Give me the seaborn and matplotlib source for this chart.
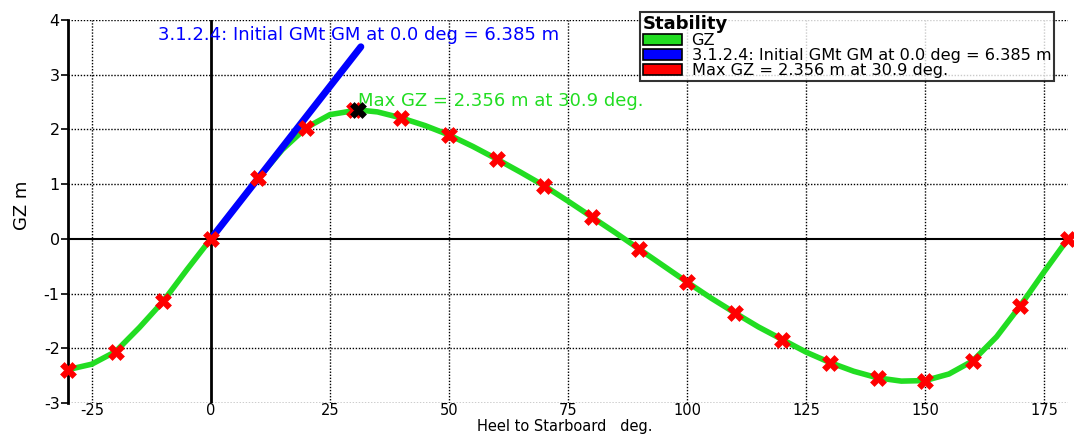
import numpy as np
import pandas as pd
import seaborn as sns
import matplotlib
matplotlib.use("Agg")
import matplotlib.pyplot as plt
from matplotlib.patches import Patch

# ---- data ----
curve_heel = [-30, -25, -20, -15, -10, -5, 0, 5, 10, 15, 20, 25, 30.9, 35, 40, 45, 50, 55, 60, 65,
              70, 75, 80, 85, 90, 95, 100, 105, 110, 115, 120, 125, 130, 135, 140, 145, 150, 155,
              160, 165, 170, 175, 180]
curve_gz = [-2.39, -2.29, -2.06, -1.62, -1.14, -0.56, 0.0, 0.56, 1.11, 1.63, 2.03, 2.27, 2.356, 2.32,
            2.21, 2.07, 1.90, 1.69, 1.46, 1.22, 0.97, 0.69, 0.40, 0.11, -0.19, -0.49, -0.79, -1.08,
            -1.35, -1.61, -1.84, -2.07, -2.26, -2.42, -2.54, -2.60, -2.59, -2.47, -2.23, -1.79,
            -1.22, -0.60, 0.0]
marker_heel = [-30, -20, -10, 0, 10, 20, 30, 40, 50, 60, 70, 80, 90, 100, 110, 120, 130, 140, 150,
               160, 170, 180]
marker_gz = [-2.39, -2.06, -1.14, 0.0, 1.11, 2.03, 2.35, 2.21, 1.90, 1.46, 0.97, 0.40, -0.19, -0.79,
             -1.35, -1.84, -2.26, -2.54, -2.59, -2.23, -1.22, 0.0]
max_heel = [30.9]
max_gz = [2.356]
gm_heel = [0.0, 31.5]
gm_value = 6.385
x_ticks = [-25, 0, 25, 50, 75, 100, 125, 150, 175]
y_ticks = [-3, -2, -1, 0, 1, 2, 3, 4]
legend_labels = ["GZ", "3.1.2.4: Initial GMt GM at 0.0 deg = 6.385 m", "Max GZ = 2.356 m at 30.9 deg."]

GREEN = "#22dd22"
BLUE = "#0000ff"
RED = "#ff0000"

sns.set_theme(style="white")
plt.rcParams["font.family"] = ["DejaVu Sans"]
plt.rcParams["axes.unicode_minus"] = False
plt.rcParams["text.color"] = "black"
plt.rcParams["legend.labelcolor"] = "black"

W, H = 1074, 434
fig = plt.figure(figsize=(W / 100, H / 100), dpi=100)
ax = fig.add_axes([68 / W, 1 - 403 / H, (1068 - 68) / W, (403 - 20) / H])

dotted = (0, (1, 1.2))
for xt in x_ticks:
    if xt != 0:
        ax.axvline(xt, color="black", lw=1.0, ls=dotted, zorder=1)
for yt in y_ticks:
    if yt != 0:
        ax.axhline(yt, color="black", lw=1.0, ls=dotted, zorder=1)
ax.axvline(0, color="black", lw=2.0, zorder=1)
ax.axhline(0, color="black", lw=1.5, zorder=1)

curve_df = pd.DataFrame({"heel": curve_heel, "gz": curve_gz})
sns.lineplot(data=curve_df, x="heel", y="gz", ax=ax, color=GREEN, lw=4, sort=False, zorder=3)

gm_df = pd.DataFrame({"heel": gm_heel, "gz": [gm_value * h / 57.2958 for h in gm_heel]})
sns.lineplot(data=gm_df, x="heel", y="gz", ax=ax, color=BLUE, lw=5, zorder=4)

mk_df = pd.DataFrame({"heel": marker_heel, "gz": marker_gz})
sns.scatterplot(data=mk_df, x="heel", y="gz", ax=ax, marker="X", s=130, color=RED,
                edgecolor=RED, linewidth=0.5, zorder=5, clip_on=False)
mx_df = pd.DataFrame({"heel": max_heel, "gz": max_gz})
sns.scatterplot(data=mx_df, x="heel", y="gz", ax=ax, marker="X", s=130, color="black",
                edgecolor="black", linewidth=0.5, zorder=6)

ax.text(-11, 3.72, legend_labels[1], color=BLUE, fontsize=13, ha="left", va="center")
ax.text(31.0, 2.52, legend_labels[2], color=GREEN, fontsize=13, ha="left", va="center")

ax.set_xlim(-30, 180)
ax.set_ylim(-3, 4)
ax.set_xticks(x_ticks)
ax.set_yticks(y_ticks)
ax.tick_params(axis="x", labelsize=10.5, colors="black", length=0, pad=0)
ax.tick_params(axis="y", labelsize=11.5, colors="black", length=5, width=1.2,
               direction="out", left=True, pad=1)
for s in ["top", "right", "bottom"]:
    ax.spines[s].set_visible(False)
ax.spines["left"].set_color("black")
ax.spines["left"].set_linewidth(2)
ax.set_xlabel("Heel to Starboard   deg.", fontsize=10.5, color="black")
ax.set_ylabel("GZ m", fontsize=13, color="black")
ax.xaxis.set_label_coords(565 / W, 0.0, transform=fig.transFigure)
ax.xaxis.label.set_va("bottom")
ax.yaxis.set_label_coords(22 / W, 1 - 205 / H, transform=fig.transFigure)
ax.yaxis.label.set_va("center")

handles = [Patch(facecolor=GREEN, edgecolor="black", lw=1.2),
           Patch(facecolor=BLUE, edgecolor="black", lw=1.2),
           Patch(facecolor=RED, edgecolor="black", lw=1.2)]
leg = fig.legend(handles, legend_labels, loc="upper left", bbox_to_anchor=(640 / W, 1 - 12 / H),
                 frameon=True, fancybox=False, fontsize=11.6, title="Stability",
                 title_fontproperties={"weight": "bold", "size": 13}, alignment="left",
                 borderpad=0.2, labelspacing=0.0, handlelength=2.4, handleheight=0.65,
                 handletextpad=0.6, borderaxespad=0)
leg.get_frame().set_edgecolor("black")
leg.get_frame().set_linewidth(1.5)
leg.get_title().set_color("black")

fig.savefig("out.png", dpi=100)
